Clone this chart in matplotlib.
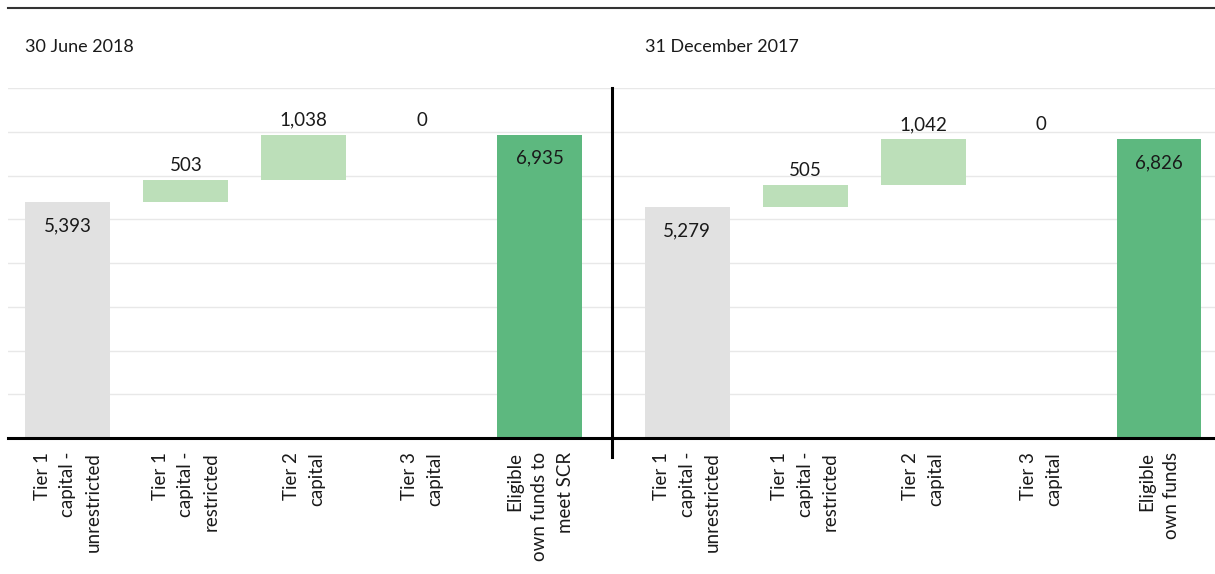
import numpy as np
import matplotlib.pyplot as plt
from matplotlib.lines import Line2D

plt.rcParams['font.family'] = ['Lato', 'DejaVu Sans']

# data (EUR m)
titles = ['30 June 2018', '31 December 2017']
labels_2018 = ['Tier 1\ncapital -\nunrestricted', 'Tier 1\ncapital -\nrestricted',
               'Tier 2\ncapital', 'Tier 3\ncapital', 'Eligible\nown funds to\nmeet SCR']
labels_2017 = ['Tier 1\ncapital -\nunrestricted', 'Tier 1\ncapital -\nrestricted',
               'Tier 2\ncapital', 'Tier 3\ncapital', 'Eligible\nown funds']
steps_2018 = [5393, 503, 1038, 0]
total_2018 = 6935
steps_2017 = [5279, 505, 1042, 0]
total_2017 = 6826

grey = '#e1e1e1'
light_green = '#bcdfb9'
green = '#5db87f'
txt = '#1a1a1a'

fig = plt.figure(figsize=(12.15, 5.74), dpi=100)
ax = fig.add_axes([8 / 1215, 1 - 438 / 574, 1 - 8 / 1215, (438 - 88) / 574])

width = 0.72
offset = 5.25  # where the second panel starts on the x axis


def waterfall(x0, steps, total):
    xs = x0 + np.arange(len(steps) + 1)
    bottoms = np.concatenate([[0], np.cumsum(steps)[:-1]])
    colors = [grey] + [light_green] * (len(steps) - 1)
    ax.bar(xs[:-1], steps, width, bottom=bottoms, color=colors, zorder=2)
    ax.bar(xs[-1], total, width, color=green, zorder=2)
    # first bar: label inside, steps: label above, total: inside
    ax.annotate(f'{steps[0]:,}', (xs[0], steps[0]), xytext=(0, -17), textcoords='offset points',
                ha='center', va='center', fontsize=13.5, color=txt)
    for x, b, v in zip(xs[1:-1], bottoms[1:], steps[1:]):
        ax.annotate(f'{v:,}', (x, b + v), xytext=(0, 10.5), textcoords='offset points',
                    ha='center', va='center', fontsize=13.5, color=txt)
    ax.annotate(f'{total:,}', (xs[-1], total), xytext=(0, -17), textcoords='offset points',
                ha='center', va='center', fontsize=13.5, color=txt)
    return xs


xs1 = waterfall(0, steps_2018, total_2018)
xs2 = waterfall(offset, steps_2017, total_2017)

ax.set_xlim(-0.508, 9.725)
ax.set_ylim(0, 8000)
ax.set_yticks(np.arange(0, 8001, 1000))
ax.yaxis.grid(True, color='#e8e8e8', linewidth=1, zorder=0)
ax.set_axisbelow(True)
ax.tick_params(axis='y', length=0, labelleft=False)
ax.tick_params(axis='x', length=0, pad=10)
ax.set_xticks(np.concatenate([xs1, xs2]))
ax.set_xticklabels(labels_2018 + labels_2017, rotation=90, ha='center', va='top',
                   multialignment='right', fontsize=13.5, color=txt, linespacing=1.6)
for s in ['top', 'right', 'left']:
    ax.spines[s].set_visible(False)
ax.spines['bottom'].set_linewidth(2.2)
ax.spines['bottom'].set_color('black')

# divider between the two dates
ax.plot([4.614, 4.614], [0, 8000], color='black', lw=2.2, zorder=3, clip_on=False)
ax.plot([4.614, 4.614], [0, -430], color='black', lw=2.2, zorder=3, clip_on=False)

# titles and top rule
fig.text(25 / 1215, 1 - 47 / 574, titles[0], fontsize=13, color=txt, va='center')
fig.text(645 / 1215, 1 - 47 / 574, titles[1], fontsize=13, color=txt, va='center')
fig.add_artist(Line2D([8 / 1215, 1], [1 - 8 / 574] * 2, color='#333333', lw=1.5))

fig.savefig('out.png', dpi=100)
